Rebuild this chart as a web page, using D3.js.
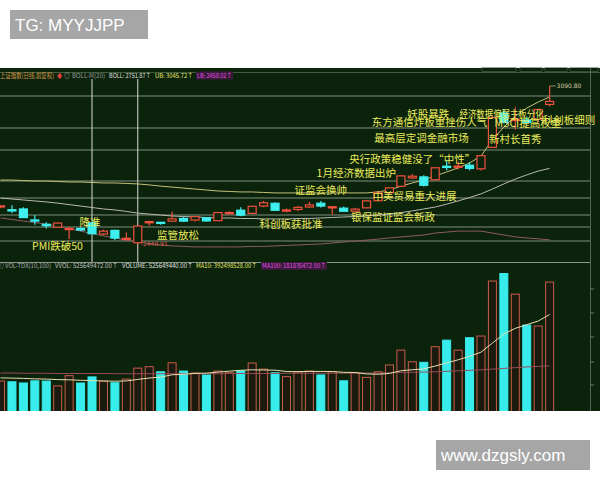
<!DOCTYPE html>
<html><head><meta charset="utf-8">
<script src="https://cdn.jsdelivr.net/npm/d3@7"></script>
<style>body{margin:0;background:#fff;} svg{display:block}</style>
</head><body>
<svg id="c" width="600" height="480"></svg>
<script>
const dates = ["2018-12-17","2018-12-18","2018-12-19","2018-12-20","2018-12-21","2018-12-24","2018-12-25","2018-12-26","2018-12-27","2018-12-28",
 "2019-01-02","2019-01-03","2019-01-04","2019-01-07","2019-01-08","2019-01-09","2019-01-10","2019-01-11","2019-01-14","2019-01-15",
 "2019-01-16","2019-01-17","2019-01-18","2019-01-21","2019-01-22","2019-01-23","2019-01-24","2019-01-25","2019-01-28","2019-01-29",
 "2019-01-30","2019-01-31","2019-02-01","2019-02-11","2019-02-12","2019-02-13","2019-02-14","2019-02-15","2019-02-18","2019-02-19",
 "2019-02-20","2019-02-21","2019-02-22","2019-02-25","2019-02-26","2019-02-27","2019-02-28","2019-03-01","2019-03-04"];
const open  = [2595,2582,2585,2540,2522,2510,2501,2505,2528,2482, 2497,2461,2446.02,2528.70,2530.30,2534.87,2546,2539.55,2548.62,2536.88,
 2568.78,2580,2567,2597,2608.5,2576,2583,2593,2608.6,2590.4, 2588.4,2576,2589.5,2618.8,2651.6,2678.3,2712.6,2716.9,2705,2760.8,
 2758,2765,2750,2838.4,2980,2950,2951,2954,3015];
const high  = [2600.5,2600,2592,2560,2530,2529,2512,2509,2531,2500, 2500,2488,2515.32,2536.98,2531.35,2574.41,2551.87,2554.79,2551.58,2571.94,
 2574.37,2592,2598.4,2618.3,2612,2587.5,2597.6,2613.3,2618.2,2597.3, 2595.3,2590,2622.3,2654.4,2673,2723.6,2729.2,2723.5,2754.6,2782.4,
 2779.8,2777,2804.7,2961.8,2996,3002.9,2965,2997,3090.80];
const low   = [2588,2568,2548,2520,2505,2507,2462,2494,2482,2477, 2456,2455,2440.91,2515.51,2520.16,2533.34,2531.33,2533.43,2532.64,2536.88,
 2563.64,2555,2565,2592.6,2578,2571,2575.9,2590,2591.1,2562.3, 2575.2,2567,2589.5,2617.4,2645,2677,2708,2677.9,2703.6,2743.5,
 2747,2743.5,2743,2838.4,2936,2912,2933,2942,3006.9];
const close = [2597.97,2576.65,2549.56,2536.27,2516.25,2527.01,2504.82,2498.29,2483.09,2493.90, 2465.29,2464.36,2514.87,2533.09,2526.46,2544.34,2535.10,2553.83,2535.77,2570.34,
 2570.42,2559.64,2596.01,2610.51,2579.70,2581.00,2591.69,2601.72,2596.98,2594.25, 2575.58,2584.57,2618.23,2653.90,2671.89,2721.07,2719.70,2682.39,2754.36,2755.65,
 2761.22,2751.80,2804.23,2961.28,2941.52,2953.82,2940.95,2994.01,3027.58];
// volume, millions of lots
const volume = [119,116,111,120,119,99,141,111,136,119, 112,127,172,178,157,194,160,152,144,160,
 153,161,193,168,153,137,156,160,144,157, 120,153,134,157,185,246,198,196,260,287, 246,297,304,530,561,476,349,345,525.65];
const volMA10 = [132,131,130,128,127,125,124,122,121,119.1, 118.4,119.5,125.6,131.4,135.2,144.7,146.6,150.7,151.5,155.6,
 159.7,163.1,165.2,164.2,163.8,158.1,157.7,158.5,158.5,158.2, 154.9,154.1,148.2,147.1,150.3,161.2,165.4,169,180.6,193.6,
 206.2,220.6,237.6,274.9,312.5,335.5,350.6,365.5,392.5];
const volMA100 = [152,152,151,151,151,150,150,150,150,150, 149,149,149,149,149,149,149,149,149,149,
 150,150,150,150,150,151,151,151,151,151, 151,152,152,152,153,154,155,156,157,159, 161,163,165,168,171,174,177,179,181.8];
const bollUB = [2704,2704,2702,2700,2700,2698,2696,2696,2694,2692, 2692,2690,2688,2684,2679,2675,2671,2667,2663,2659,
 2657,2655,2655,2653,2651,2651,2651,2651,2651,2651, 2651,2651,2651,2655,2663,2679,2692,2704,2721,2737, 2754,2774,2803,2869,2922,2967,3000,3025,3045.72];
const bollMID = [2630,2626,2622,2618,2614,2609,2603,2597,2591,2585, 2581,2575,2568,2564,2560,2556,2554,2552,2550,2548,
 2548,2546,2546,2544,2544,2544,2546,2546,2548,2550, 2552,2554,2556,2560,2564,2570,2577,2585,2593,2605, 2618,2632,2647,2667,2688,2708,2725,2741,2751.87];
const bollLB = [2548,2542,2535,2529,2523,2515,2505,2494,2484,2474, 2466,2457,2449,2443,2437,2433,2431,2429,2429,2429,
 2429,2429,2431,2431,2433,2435,2437,2439,2441,2445, 2449,2453,2457,2461,2466,2470,2474,2478,2486,2490, 2494,2494,2494,2486,2478,2470,2466,2462,2458.02];
const levelPrices = [3049.7, 2918.0, 2827.5, 2700.0, 2630.1, 2560.2, 2510.8, 2453.2];
const markerDates = ["2018-12-27", "2019-01-04"];
const eventLabels = ["PMI跌破50","降准","监管放松","科创板获批准","证监会换帅","1月经济数据出炉","央行政策稳健没了“中性”","银保监证监会新政",
 "中美贸易重大进展","最高层定调金融市场","东方通信炸板重挫伤人气","妖股暴跌","经济数据偏弱主板分化","MSCI提高权重","科创板细则","新村长首秀"];
const eventPos = [4.98, 7.82, 15.52, 25.4, 28.0, 31.1, 36.0, 34.3, 36.2, 36.8, 37.5, 37.4, 43.8, 46.1, 49.7, 45.0]; // in trading-day index
const eventPrice = [2436.7, 2535.5, 2482.0, 2527.2, 2667.1, 2737.0, 2794.6, 2556.0, 2642.4, 2881.0, 2946.8, 2979.7, 2979.7, 2938.6, 2951.0, 2872.8];

const svg = d3.select("#c");
const W = 600, H = 480;
const panelTop = 68, panelBot = 411, priceBot = 255;
const bg = "#0b220b";

const x = d3.scaleBand().domain(dates).range([-5.22, 555.34]).paddingInner(0);
const step = x.step();
const cx = d => x(d) + x.bandwidth()/2;
const xi = i => cx(dates[0]) + i * step;
const y = d3.scaleLinear().domain([2395.7, 3164.8]).range([priceBot, panelTop]);
const yv = d3.scaleLinear().domain([0, 600]).range([410, 264]);

// top watermark
svg.append("rect").attr("x",10).attr("y",10).attr("width",138).attr("height",29).attr("fill","#a6a6a6");
svg.append("text").attr("x",15).attr("y",31).attr("fill","#fff").attr("font-family","Liberation Sans, Arial, sans-serif")
  .attr("font-size",17).text("TG: MYYJJPP");

// panel
svg.append("rect").attr("x",0).attr("y",panelTop).attr("width",W).attr("height",panelBot-panelTop).attr("fill",bg);
svg.append("defs").append("clipPath").attr("id","clipP").append("rect").attr("x",0).attr("y",panelTop).attr("width",590).attr("height",panelBot-panelTop);
const g = svg.append("g").attr("clip-path","url(#clipP)");

// top faint strip
svg.append("line").attr("x1",0).attr("x2",W).attr("y1",72.5).attr("y2",72.5).attr("stroke","#4f6a4f").attr("stroke-width",0.8);
[482,520,545,570].forEach((bx,i)=>{
  svg.append("rect").attr("x",bx).attr("y",67.5).attr("width",[34,22,22,28][i]).attr("height",4).attr("fill","none").attr("stroke","#556a55").attr("stroke-width",0.6);
});

// level lines
g.selectAll("line.level").data(levelPrices).join("line").attr("class","level")
  .attr("x1",0).attr("x2",590).attr("y1",d=>y(d)).attr("y2",d=>y(d))
  .attr("stroke","#a9b3a6").attr("stroke-opacity",0.75).attr("stroke-width",1.2);

// vertical markers
g.selectAll("line.vm").data(markerDates).join("line").attr("class","vm")
  .attr("x1",d=>cx(d)).attr("x2",d=>cx(d)).attr("y1",79).attr("y2",262)
  .attr("stroke","#d8dcd8").attr("stroke-width",1);

// volume separator
svg.append("line").attr("x1",0).attr("x2",590).attr("y1",262.5).attr("y2",262.5).attr("stroke","#8a968a").attr("stroke-width",1);
// right axis
svg.append("line").attr("x1",590.5).attr("x2",590.5).attr("y1",panelTop).attr("y2",panelBot).attr("stroke","#55665a").attr("stroke-width",1);
[289,313,337,362,385].forEach(ty=>{
  svg.append("line").attr("x1",590).attr("x2",594).attr("y1",ty).attr("y2",ty).attr("stroke","#6a7a6a");
});

// BOLL lines
const lineGen = arr => d3.line().x((d,i)=>cx(dates[i])).y(d=>y(d))(arr);
g.append("path").attr("d",lineGen(bollUB)).attr("fill","none").attr("stroke","#c4c27a").attr("stroke-width",1);
g.append("path").attr("d",lineGen(bollMID)).attr("fill","none").attr("stroke","#b9b9b0").attr("stroke-width",1);
g.append("path").attr("d",lineGen(bollLB)).attr("fill","none").attr("stroke","#8d5a64").attr("stroke-width",1);

// candles
const RED = "#f0503e", CYAN = "#3fefef";
const cd = dates.map((d,i)=>({d, o:open[i], h:high[i], l:low[i], c:close[i]}));
const cg = g.append("g");
cg.selectAll("line.wick").data(cd).join("line").attr("class","wick")
  .attr("x1",d=>cx(d.d)).attr("x2",d=>cx(d.d)).attr("y1",d=>y(d.h)).attr("y2",d=>y(d.l))
  .attr("stroke",d=>d.c>=d.o?RED:CYAN).attr("stroke-width",1.2);
cg.selectAll("rect.body").data(cd).join("rect").attr("class","body")
  .attr("x",d=>cx(d.d)-4).attr("width",8)
  .attr("y",d=>y(Math.max(d.o,d.c))).attr("height",d=>Math.max(1.2,Math.abs(y(d.o)-y(d.c))))
  .attr("fill",d=>d.c>=d.o?bg:CYAN).attr("stroke",d=>d.c>=d.o?RED:CYAN).attr("stroke-width",1.2);

// volume
const vd = dates.map((d,i)=>({d, v:volume[i], up: close[i]>=open[i]}));
g.selectAll("rect.vol").data(vd).join("rect").attr("class","vol")
  .attr("x",d=>cx(d.d)-4).attr("width",8)
  .attr("y",d=>yv(d.v)).attr("height",d=>416-yv(d.v))
  .attr("fill",d=>d.up?"#1a1a0e":"#38ecec").attr("stroke",d=>d.up?"#c85c4c":"#38ecec").attr("stroke-width",1);
const vline = arr => d3.line().x((d,i)=>cx(dates[i])).y(d=>yv(d))(arr);
g.append("path").attr("d",vline(volMA100)).attr("fill","none").attr("stroke","#9a4a5a").attr("stroke-width",1);
g.append("path").attr("d",vline(volMA10)).attr("fill","none").attr("stroke","#e8e0b0").attr("stroke-width",1);

// high / low markers
const hi = d3.maxIndex(high), lo = d3.minIndex(low);
svg.append("line").attr("x1",cx(dates[hi])).attr("x2",cx(dates[hi])+6).attr("y1",y(high[hi])).attr("y2",y(high[hi])).attr("stroke","#c9b9a0").attr("stroke-width",0.7);
svg.append("text").attr("x",cx(dates[hi])+7).attr("y",y(high[hi])+2).attr("font-size",6).attr("fill","#d8c8a8")
  .attr("font-family","DejaVu Sans, sans-serif").text(high[hi].toFixed(2));
svg.append("text").attr("x",cx(dates[lo])+3).attr("y",y(low[lo])+2).attr("font-size",6).attr("fill","#e06050")
  .attr("font-family","DejaVu Sans, sans-serif").text("-" + low[lo].toFixed(2));

// event labels
svg.append("g").selectAll("text").data(eventLabels).join("text")
  .attr("x",(d,i)=>xi(eventPos[i])).attr("y",(d,i)=>y(eventPrice[i]))
  .attr("text-anchor","middle").attr("dominant-baseline","central")
  .attr("font-family","Noto Sans CJK SC, sans-serif").attr("font-size",10.5)
  .attr("fill","#ecec5c")
  .each(function(d){ if (d.length >= 10 && d.startsWith("经济")) d3.select(this).attr("textLength",84).attr("lengthAdjust","spacingAndGlyphs"); })
  .text(d=>d);

// legends
const leg = (items, ty) => {
  items.forEach(it=>{
    if (it.bg) svg.append("rect").attr("x",it.x-1).attr("y",ty-6).attr("width",it.w+2).attr("height",8).attr("fill",it.bg);
    svg.append("text").attr("x",it.x).attr("y",ty).attr("font-size",6.3).attr("fill",it.c)
      .attr("font-family","Noto Sans CJK SC, DejaVu Sans, sans-serif").attr("textLength",it.w).attr("lengthAdjust","spacingAndGlyphs").text(it.t);
  });
};
leg([
  {t:"上证指数(日线,前复权)", x:0, w:54, c:"#d89a48"},
  {t:"◆", x:57, w:5, c:"#e04040"},
  {t:"◎", x:64, w:6, c:"#b0b0b0"},
  {t:"BOLL-M(20)", x:72, w:33, c:"#9a9a9a"},
  {t:"BOLL: 2751.87↑", x:109, w:42, c:"#e0e0e0"},
  {t:"UB: 3045.72↑", x:155, w:38, c:"#e8e870"},
  {t:"LB: 2458.02↑", x:197, w:35, c:"#e050e0", bg:"#3a1a3a"}
], 77.5);
leg([
  {t:"◎", x:0, w:4, c:"#b0b0b0"},
  {t:"VOL-TDX(10,100)", x:5, w:46, c:"#a8a8a8"},
  {t:"VVOL: 525649472.00↑", x:55, w:63, c:"#c0c0c0"},
  {t:"VOLUME: 525649440.00↑", x:122, w:71, c:"#e0e0e0"},
  {t:"MA10: 392498528.00↑", x:196, w:61, c:"#e8e870"},
  {t:"MA100: 181835472.00↑", x:262, w:64, c:"#e050e0", bg:"#3a1a3a"}
], 268);

// bottom watermark
svg.append("rect").attr("x",436).attr("y",440).attr("width",154).attr("height",30).attr("fill","#a6a6a6");
svg.append("text").attr("x",441).attr("y",461).attr("fill","#fff").attr("font-family","Liberation Sans, Arial, sans-serif")
  .attr("font-size",17).text("www.dzgsly.com");
</script>
</body></html>
